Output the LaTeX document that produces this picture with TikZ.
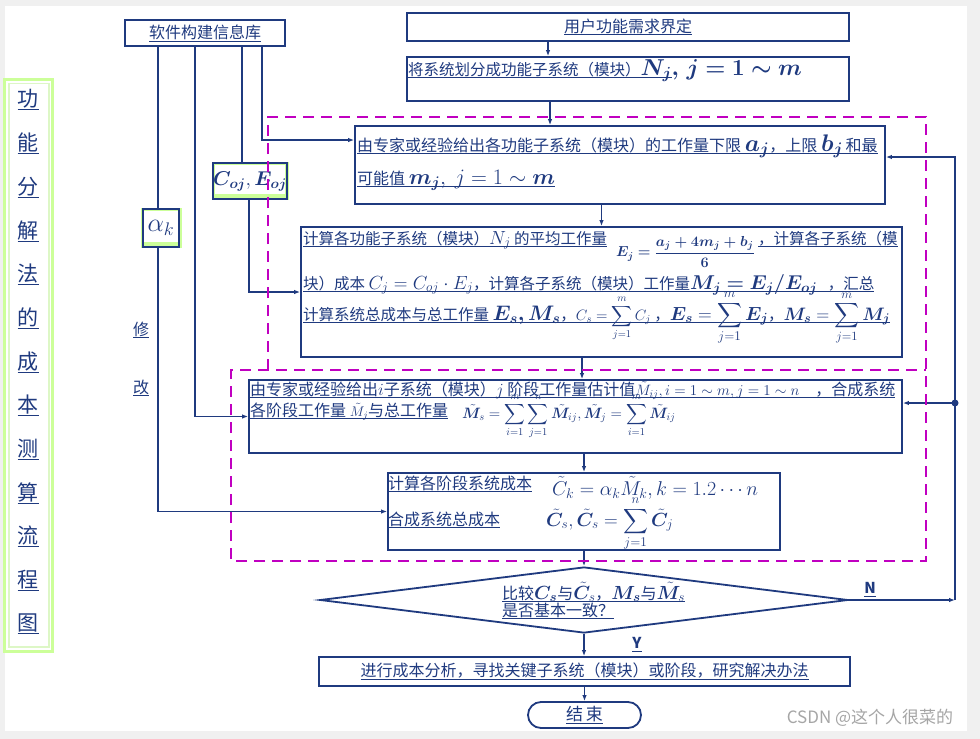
\RequirePackage{fix-cm}
\documentclass[tikz,border=0pt]{standalone}
\usepackage{amsmath,bm}
\usepackage{fontspec}
\setmainfont{Noto Sans CJK SC}
\usetikzlibrary{shapes.geometric,arrows.meta,calc}
\definecolor{db}{HTML}{1F3A7F}
\definecolor{mg}{HTML}{C000C0}
\definecolor{lg}{HTML}{CCFF99}
\definecolor{lg2}{HTML}{DDF7C6}
\newcommand\uln[1]{\setbox0\hbox{#1}\rlap{\vrule height -2.4pt depth 3.4pt width \wd0}\box0}
\newcommand\mth[2][20]{{\fontsize{#1}{#1}\selectfont$#2$}}
\begin{document}
\begin{tikzpicture}[x=1pt,y=-1pt,
  boxs/.style={draw=db,line width=1.8pt,inner sep=0pt,fill=white,text=db},
  conn/.style={draw=db,line width=1.3pt},
  arr/.style={conn,-{Latex[length=6pt,width=4.5pt]}},
  txt/.style={text=db,inner sep=0pt},
  txts/.style={txt,font=\fontsize{15.5}{18}\selectfont},
  txtm/.style={txt,font=\fontsize{16}{19}\selectfont},
  dashbox/.style={draw=mg,line width=2.6pt,dash pattern=on 11pt off 7pt}]
\useasboundingbox (0,0) rectangle (980,739);
\fill[gray!12] (0,0) rectangle (980,739);
\fill[white] (5,6) rectangle (967,731);

% left title frame
\draw[lg,line width=3pt] (4.5,79.5) rectangle (52.5,651);
\draw[lg2,line width=1.5pt] (9,83.5) rectangle (49,647);
\foreach \c [count=\i from 0] in {功,能,分,解,法,的,成,本,测,算,流,程,图}
  \node[txt,font=\fontsize{21}{24}\selectfont] (t\i) at (28,{100+43.67*\i}) {\uln{\c}};

% helper columns
\coordinate (L1) at (158,0);
\coordinate (L2) at (195,0);
\coordinate (L3) at (242,0);
\coordinate (L4) at (262,0);
\coordinate (R) at (955,0);

% boxes
\node[boxs,minimum width=160,minimum height=26,font=\fontsize{16}{19}\selectfont] (lib) at (205,33) {\uln{软件构建信息库}};
\node[boxs,minimum width=442,minimum height=28,font=\fontsize{16}{19}\selectfont] (req) at (628,27) {\raisebox{3pt}{\uln{用户功能需求界定}}};
\node[boxs,minimum width=442,minimum height=44] (div) at (628,79) {};
\node[boxs,minimum width=530,minimum height=78] (b3) at (620,165) {};
\node[boxs,minimum width=601,minimum height=130] (b4) at (601.5,292) {};
\node[boxs,minimum width=653,minimum height=73] (b5) at (575.5,416.5) {};
\node[boxs,minimum width=392,minimum height=77] (b6) at (584,511.5) {};
\node[draw=db,line width=1.8pt,diamond,inner sep=0pt,minimum width=528,minimum height=66] (dia) at (584,600) {};
\node[boxs,minimum width=531,minimum height=29,font=\fontsize{16}{19}\selectfont] (b7) at (584.5,671.5) {\uln{进行成本分析，寻找关键子系统（模块）或阶段，研究解决办法}};
\node[boxs,rounded corners=13pt,minimum width=113,minimum height=26,font=\fontsize{17}{19}\selectfont] (end) at (584.5,715) {\uln{结\,束}};

% green boxes
\fill[lg] (140.5,208) rectangle (181.5,248);
\fill[white] (144,211) rectangle (178,242);
\node[boxs,fill=none,minimum width=36,minimum height=38] (ak) at (161,228) {\mth[26]{\alpha_k}};
\fill[lg] (211.5,162) rectangle (288.5,200);
\fill[white] (215,165) rectangle (285,194);
\node[boxs,fill=none,minimum width=72,minimum height=36] (coj) at (250,181) {\mth[20]{\bm{C_{oj}},\bm{E_{oj}}}};

% texts inside boxes
\node[txts,anchor=base west] (divt) at (408,75) {\uln{将系统划分成功能子系统（模块）\mth[23]{\bm{N_j}}}\mth[23]{\bm{,\,j=1\sim m}}};
\node[txtm,anchor=base west] (b3a) at (357,151) {\uln{由专家或经验给出各功能子系统（模块）的工作量下限 \mth[24]{\bm{a_j}}，上限 \mth[24]{\bm{b_j}}\,和最}};
\node[txtm,anchor=base west] (b3b) at (357,184) {\uln{可能值 \mth[22]{\bm{m_j},\ j=1\sim \bm{m}}}};

\node[txts,anchor=base west] (b4a) at (303,244) {\uln{计算各功能子系统（模块）\mth[19]{N_j} 的平均工作量}};
\node[txt,anchor=west] (b4f) at (616,252) {\mth[14.5]{\bm{E_j=\dfrac{a_j+4m_j+b_j}{6}}}};
\node[txts,anchor=base west] (b4b) at (758,244) {\uln{，计算各子系统（模}};
\node[txts,anchor=base west] (b4c) at (303,289) {\uln{块）成本 \mth[19]{C_j=C_{oj}\cdot E_j}，计算各子系统（模块）工作量\mth[20]{\bm{M_j=E_j/E_{oj}}}\ \ \ ，汇总}};
\node[txts,anchor=base west] (b4d) at (303,320) {\uln{计算系统总成本与总工作量 \mth[21]{\bm{E_s,M_s}}，\mth[15]{\displaystyle C_s=\sum_{j=1}^m C_j}\ ，\mth[19]{\displaystyle \bm{E_s}=\sum_{j=1}^m\bm{E_j}}，\mth[18]{\displaystyle \bm{M_s}=\sum_{j=1}^m\bm{M_j}}}};

\node[txtm,anchor=base west] (b5a) at (250,395) {\uln{由专家或经验给出\mth[17]{i}子系统（模块）\mth[17]{j} 阶段工作量估计值\mth[15]{\tilde M_{ij}, i=1\sim m, j=1\sim n}\quad ，合成系统}};
\node[txtm,anchor=base west] (b5b) at (250,416) {\uln{各阶段工作量 \mth[14]{\tilde M_j}与总工作量}};
\node[txt,anchor=base west] (b5f) at (462,418) {\mth[15]{\displaystyle \tilde{\bm M}_s=\sum_{i=1}^m\sum_{j=1}^n\tilde{\bm M}_{ij},\tilde{\bm M}_j=\sum_{i=1}^m\tilde{\bm M}_{ij}}};

\node[txtm,anchor=base west] (b6a) at (388,489) {\uln{计算各阶段系统成本}};
\node[txt,anchor=base west] (b6f1) at (552,495) {\mth[20]{\tilde C_k=\alpha_k\tilde M_k, k=1.2\cdots n}};
\node[txtm,anchor=base west] (b6b) at (388,525) {\uln{合成系统总成本}};
\node[txt,anchor=base west] (b6f2) at (546,526) {\mth[19]{\displaystyle \tilde{\bm C}_s,\tilde{\bm C}_s=\sum_{j=1}^n\tilde{\bm C}_j}};

\node[txtm,anchor=base west] (dta) at (502,599) {\uln{比较\mth[19]{\bm{C_s}}与\mth[19]{\tilde{\bm C}_s}，\mth[19]{\bm{M_s}}与\mth[19]{\tilde{\bm M}_s}}};
\node[txtm,anchor=base west] (dtb) at (502,616) {\uln{是否基本一致？}};

\node[txt] (lblN) at (870,590) {\uln{\mth[15]{\mathbf{N}}}};
\node[txt] (lblY) at (637,645) {\uln{\mth[15]{\mathbf{Y}}}};
\node[txt,font=\fontsize{16}{19}\selectfont] (xiu) at (141,330) {\uln{修}};
\node[txt,font=\fontsize{16}{19}\selectfont] (gai) at (141,388) {\uln{改}};

% connectors
\draw[arr] ([xshift=-80pt]req.south) -- ([xshift=-80pt]div.north);
\draw[arr] ([xshift=-78pt]div.south) -- ([xshift=-70pt]b3.north);
\draw[arr] (b3.south -| b4.north) -- (b4.north);
\draw[arr] ([xshift=-19.5pt]b4.south) -- ([xshift=6.5pt]b5.north);
\draw[arr] (b5.south -| b6.north) -- (b6.north);
\draw[arr] (b6.south) -- (dia.north);
\draw[arr] (dia.south) -- (b7.north -| dia.south);
\draw[arr] (b7.south) -- (end.north);

\draw[conn] (lib.south -| L1) -- (ak.north -| L1);
\draw[arr] (ak.south -| L1) |- (b6.west);
\draw[arr] (lib.south -| L2) |- (b5.west);
\draw[conn] (lib.south -| L3) -- (coj.north -| L3);
\draw[arr] (lib.south -| L4) |- ([yshift=25pt]b3.west);
\draw[arr] ([xshift=-1pt]coj.south) |- (b4.west);

\draw[arr] (dia.east) -- (dia.east -| R);
\draw[arr] (dia.east -| R) |- ([yshift=8pt]b3.east);
\draw[arr] ([yshift=13.5pt]b5.east -| R) -- ([yshift=13.5pt]b5.east);
\fill[db] ([yshift=13.5pt]b5.east -| R) circle (3.5pt);

% dashed groups
\draw[dashbox] (268,370) -- (268,117) -- (926,117) -- (926,561) -- (231,561) -- (231,370) -- (926,370);

% watermark
\node[text=gray!70,inner sep=0pt,font=\fontsize{17}{19}\selectfont] (wm) at (870,718) {CSDN @这个人很菜的};
\end{tikzpicture}
\end{document}
